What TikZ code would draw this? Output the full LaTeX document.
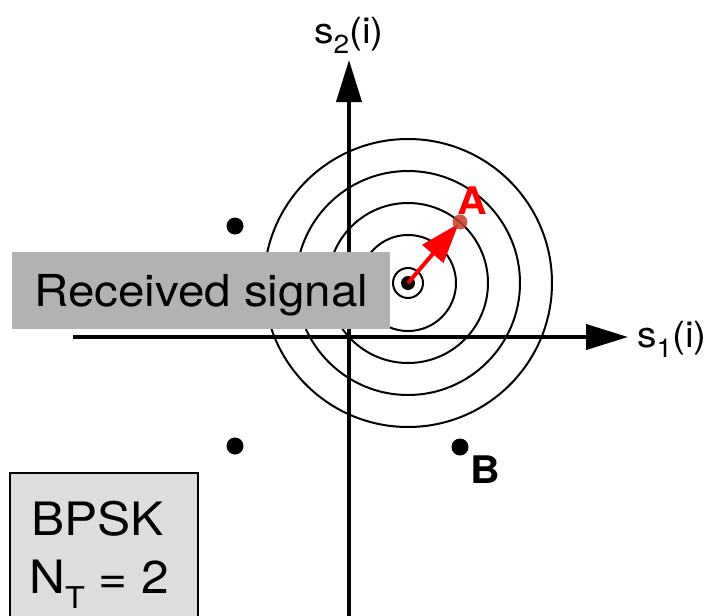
\documentclass[tikz,border=0pt]{standalone}
\usepackage{fontspec}
\setmainfont{TeX Gyre Heros}[FakeStretch=1.08]
\usetikzlibrary{arrows.meta}
\definecolor{boxgray}{RGB}{178,178,178}
\definecolor{lightbox}{RGB}{221,221,221}
\definecolor{adotcol}{RGB}{196,64,40}
\newcommand{\fs}[1]{\fontsize{#1}{#1}\selectfont}
\newcommand{\lowsub}[3]{\raisebox{-#1pt}{\fs{#2}#3}}
\begin{document}
\begin{tikzpicture}[x=1pt,y=-1pt,
  axis/.style={line width=4pt,-{Triangle[length=42pt 0 0,width=25pt 0 0]}},
  ring/.style={line width=2pt},
  cdot/.style={circle,fill=black,inner sep=0pt,minimum size=17pt},
  redarrow/.style={draw=red,line width=4pt,-{Triangle[length=40pt 0 0,width=27pt 0 0]}},
  lbl/.style={inner sep=0pt,font=\fs{36}},
  bigtxt/.style={inner sep=0pt,font=\fs{46}},
  ptlbl/.style={inner sep=0pt,font=\fs{38}\bfseries}]
\useasboundingbox (0,0) rectangle (713,616);
% axes
\coordinate (xl) at (73,337);
\coordinate (xr) at (628,337);
\coordinate (yb) at (349,620);
\coordinate (yt) at (349,60);
\draw[axis] (xl) -- (xr);
\draw[axis] (yb) -- (yt);
\node[lbl,anchor=base] (s2) at (349,43) {s\lowsub{10}{26}{2}(i)};
\node[lbl,anchor=base west] (s1) at (637,347) {s\lowsub{10}{26}{1}(i)};
% rings
\coordinate (C) at (408,283);
\foreach \r in {15,48,80,112,144} \draw[ring] (C) circle[radius=\r pt];
\node[circle,fill=black,inner sep=0pt,minimum size=14pt] (c) at (C) {};
% constellation points
\node[cdot] (p1) at (235,226) {};
\node[cdot] (p2) at (235,446) {};
\node[cdot] (p3) at (460,447) {};
\node[ptlbl,anchor=base west] (B) at (470,483) {B};
\coordinate (ac) at (460,222);
\draw[redarrow,shorten >=2pt] (c.center) -- (ac);
\node[circle,fill=adotcol,fill opacity=0.85,inner sep=0pt,minimum size=15pt] (a) at (ac) {};
\node[ptlbl,anchor=base west,text=red] (A) at (457,214) {A};
% received signal box
\node[fill=boxgray,inner sep=0pt,minimum width=378pt,minimum height=77pt,
      text height=32pt,text depth=0pt,font=\fs{44},anchor=north west] (rec) at (12,252) {Received signal};
% BPSK box
\node[fill=lightbox,draw=black,line width=1.5pt,inner sep=0pt,minimum width=188pt,
      minimum height=170pt,anchor=north west] (bbox) at (9,472) {};
\node[bigtxt,anchor=base west] (bpsk) at (31,535) {BPSK};
\node[bigtxt,anchor=base west] (nt) at (29,593) {N\lowsub{15}{30}{T} = 2};
\end{tikzpicture}
\end{document}
